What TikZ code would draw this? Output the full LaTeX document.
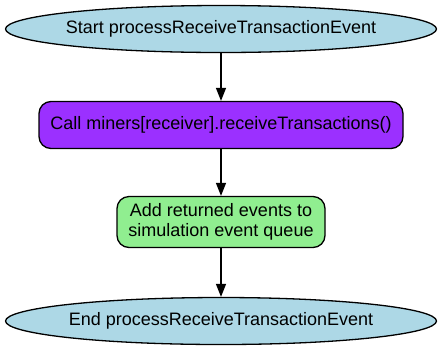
\documentclass[tikz,border=0pt]{standalone}
\usepackage{fontspec}
\setmainfont{Liberation Sans}
\usetikzlibrary{shapes.geometric,arrows.meta}
\definecolor{startcol}{HTML}{ADD8E6}
\definecolor{callcol}{HTML}{9B30FF}
\definecolor{addcol}{HTML}{90EE90}
\tikzset{
  terminal/.style={ellipse,draw,fill=startcol,line width=1.3pt,minimum width=431pt,minimum height=47pt,inner xsep=-6pt,inner ysep=0pt},
  action/.style={draw,rounded corners=12pt,line width=1.3pt,align=center,inner sep=0pt},
  flow/.style={line width=1.3pt,-{Triangle[length=13pt,width=10pt]}}
}
\begin{document}
\begin{tikzpicture}[x=1pt,y=-1pt,font=\fontsize{18}{20}\selectfont]
            \useasboundingbox (0,0) rectangle (443,349);
            \node[terminal] (start) at (221,29) {Start processReceiveTransactionEvent};
            \node[action,fill=callcol,minimum width=364pt,minimum height=47pt] (call) at (221,125) {Call miners[receiver].receiveTransactions()};
            \node[action,fill=addcol,minimum width=208pt,minimum height=51pt] (add) at (221,222) {Add returned events to\\simulation event queue};
            \node[terminal] (stop) at (221,321) {End processReceiveTransactionEvent};
            \draw[flow] (start) -- (call);
            \draw[flow] (call) -- (add);
            \draw[flow] (add) -- (stop);
        \end{tikzpicture}
\end{document}
